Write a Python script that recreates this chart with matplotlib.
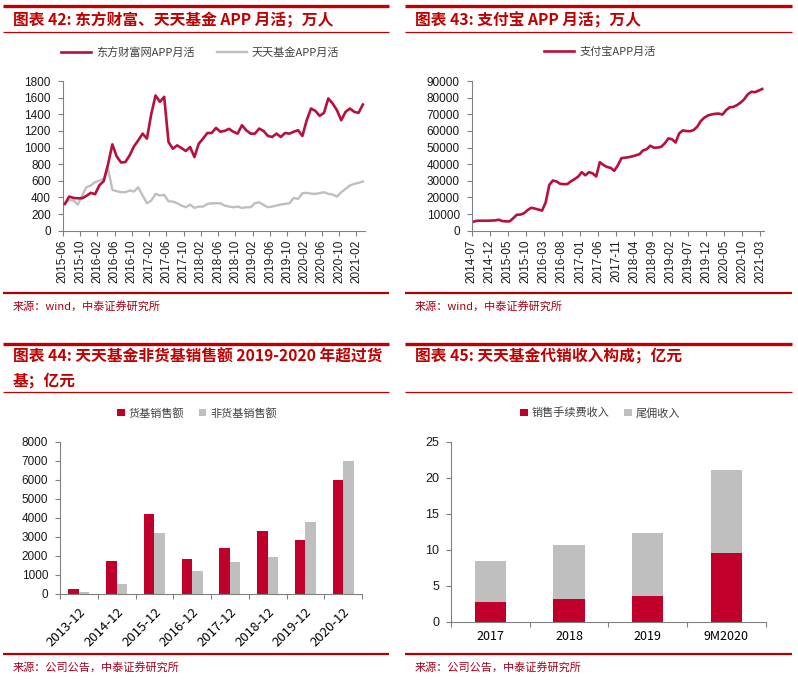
import numpy as np
import pandas as pd
import matplotlib
matplotlib.use("Agg")
import matplotlib.pyplot as plt
from matplotlib.lines import Line2D

plt.rcParams['font.family'] = ['Noto Sans CJK SC', 'DejaVu Sans']

# ── Canvas (pixels) ────────────────────────────────────────────────────────────
W, H = 798, 681

LINE_RED  = "#B8103C"
BAR_RED   = "#C0002B"
GRAY      = "#BFBFBF"
TITLE_RED = "#C00000"
RULE_RED  = "#B00000"
SRC_RED   = "#A8001A"
AXIS_GRAY = "#808080"

# ── Data ───────────────────────────────────────────────────────────────────────
# 图表42: 东方财富 / 天天基金 APP 月活 (万人), 2015-06 .. 2021-03
em_months = pd.period_range("2015-06", "2021-03", freq="M").strftime("%Y-%m").tolist()
em_dfcf = [322, 410, 394, 390, 390, 419, 455, 439, 547, 596,
           800, 1038, 893, 821, 825, 906, 1014, 1087, 1167, 1107,
           1400, 1626, 1550, 1610, 1067, 986, 1026, 994, 958, 1006,
           885, 1046, 1107, 1175, 1175, 1236, 1190, 1200, 1225, 1190,
           1167, 1268, 1208, 1167, 1167, 1228, 1199, 1140, 1127, 1167,
           1127, 1175, 1167, 1190, 1208, 1139, 1328, 1469, 1441, 1381,
           1417, 1590, 1530, 1449, 1328, 1429, 1469, 1429, 1417, 1517]
em_ttjj = [322, 370, 362, 314, 423, 523, 543, 584, 604, 624,
           750, 491, 475, 463, 463, 483, 471, 523, 423, 330,
           362, 443, 423, 431, 354, 350, 330, 302, 282, 314,
           274, 290, 290, 322, 330, 330, 330, 302, 290, 282,
           290, 274, 282, 282, 330, 342, 310, 282, 290, 302,
           315, 322, 330, 394, 382, 451, 455, 445, 443, 451,
           463, 443, 435, 410, 463, 503, 543, 563, 575, 592]

# 图表43: 支付宝 APP 月活 (万人), 2014-07 .. 2021-03
ali_months = pd.period_range("2014-07", "2021-03", freq="M").strftime("%Y-%m").tolist()
ali_mau = [5400, 6000, 6000, 6000, 6000, 6100, 6200, 6600, 5800, 5600,
           5600, 7500, 9600, 9700, 10500, 12400, 13800, 13300, 12700, 12100,
           17000, 27500, 30200, 29600, 28200, 28000, 28000, 29700, 31000, 32500,
           35200, 33300, 35200, 34500, 32600, 41200, 39500, 38300, 37800, 36000,
           39300, 43600, 43900, 44200, 44700, 45300, 46000, 48300, 49000, 51100,
           49900, 50000, 50400, 52500, 55500, 55000, 53000, 58500, 60300, 59900,
           59800, 60500, 62500, 66000, 68000, 69300, 69900, 70300, 70400, 69800,
           72500, 74200, 74400, 75500, 77000, 79000, 82000, 83500, 83300, 84200,
           85200]

# 图表44: 天天基金销售额 (亿元)
sale_years     = ["2013-12", "2014-12", "2015-12", "2016-12",
                  "2017-12", "2018-12", "2019-12", "2020-12"]
sale_money     = [280, 1750, 4210, 1840, 2420, 3290, 2820, 5990]
sale_nonmoney  = [90, 525, 3220, 1210, 1700, 1945, 3765, 6985]

# 图表45: 天天基金代销收入构成 (亿元)
rev_years = ["2017", "2018", "2019", "9M2020"]
rev_fee   = [2.8, 3.1, 3.6, 9.5]
rev_trail = [5.6, 7.5, 8.7, 11.6]


# ── Helpers ────────────────────────────────────────────────────────────────────
def fy(y):
    return 1 - y / H


def px_axes(fig, left, top, right, bottom):
    return fig.add_axes([left / W, fy(bottom), (right - left) / W, (bottom - top) / H])


def rule(fig, y, x0, x1, lw, color):
    fig.add_artist(Line2D([x0 / W, x1 / W], [fy(y), fy(y)],
                          transform=fig.transFigure, lw=lw, color=color,
                          solid_capstyle="butt"))


def panel(fig, x0, x1, top, titles, title_ys, rule_y, src_y, src):
    rule(fig, top, x0, x1, 2.4, TITLE_RED)
    for t, ty in zip(titles, title_ys):
        fig.text((x0 + 10) / W, fy(ty), t, color=TITLE_RED, fontsize=11.3,
                 fontweight="bold", fontstyle="italic", va="center", ha="left")
    rule(fig, rule_y, x0, x1, 0.9, TITLE_RED)
    rule(fig, src_y, x0, x1, 1.6, RULE_RED)
    fig.text((x0 + 10) / W, fy(src_y + 13), src, color=SRC_RED, fontsize=8,
             va="center", ha="left")


def style(ax):
    for s in ["top", "right"]:
        ax.spines[s].set_visible(False)
    for s in ["left", "bottom"]:
        ax.spines[s].set_color(AXIS_GRAY)
        ax.spines[s].set_linewidth(0.8)
    ax.tick_params(direction="out", length=3.5, width=0.8, color=AXIS_GRAY,
                   labelsize=8.5, labelcolor="#1a1a1a",
                   labelfontfamily="Liberation Sans")
    ax.tick_params(axis="y", pad=5)
    ax.set_facecolor("white")


fig = plt.figure(figsize=(W / 100, H / 100), dpi=100)
fig.patch.set_facecolor("white")

# ── Panel frames ───────────────────────────────────────────────────────────────
panel(fig, 3, 389, 5.5, ["图表 42: 东方财富、天天基金 APP 月活；万人"], [20], 31.5,
      293, "来源：wind，中泰证券研究所")
panel(fig, 405, 792, 5.5, ["图表 43: 支付宝 APP 月活；万人"], [20], 31.5,
      293, "来源：wind，中泰证券研究所")
panel(fig, 3, 389, 343.5, ["图表 44: 天天基金非货基销售额 2019-2020 年超过货", "基；亿元"],
      [356.5, 380], 392, 654, "来源：公司公告，中泰证券研究所")
panel(fig, 405, 792, 343.5, ["图表 45: 天天基金代销收入构成；亿元"], [356.5], 392,
      654, "来源：公司公告，中泰证券研究所")

# ── Chart 42 ───────────────────────────────────────────────────────────────────
ax1 = px_axes(fig, 62.7, 81, 365, 230.7)
x1 = np.arange(len(em_months)) + 0.5
ax1.plot(x1, em_dfcf, color=LINE_RED, lw=1.9, label="东方财富网APP月活", zorder=3)
ax1.plot(x1, em_ttjj, color=GRAY, lw=1.7, label="天天基金APP月活", zorder=2)
ax1.set_xlim(0, len(em_months))
ax1.set_ylim(0, 1800)
ax1.set_yticks(np.arange(0, 1801, 200))
tk = np.arange(0, len(em_months), 4)
ax1.set_xticks(tk)
ax1.set_xticklabels([em_months[i] for i in tk], rotation=90)
style(ax1)
ax1.tick_params(axis="x", pad=3)
ax1.legend(loc="center", bbox_to_anchor=(200 / W, fy(52)), bbox_transform=fig.transFigure,
           ncol=2, frameon=False, fontsize=8, handlelength=2.7, handletextpad=0.45,
           columnspacing=2.0, labelcolor="#404040")

# ── Chart 43 ───────────────────────────────────────────────────────────────────
ax2 = px_axes(fig, 471.7, 81, 764, 230.7)
x2 = np.arange(len(ali_months)) + 0.5
ax2.plot(x2, ali_mau, color=LINE_RED, lw=1.9, label="支付宝APP月活")
ax2.set_xlim(0, len(ali_months))
ax2.set_ylim(0, 90000)
ax2.set_yticks(np.arange(0, 90001, 10000))
tk2 = np.arange(0, len(ali_months), 5)
ax2.set_xticks(tk2)
ax2.set_xticklabels([ali_months[i] for i in tk2], rotation=90)
style(ax2)
ax2.tick_params(axis="x", pad=3)
ax2.legend(loc="center", bbox_to_anchor=(600 / W, fy(52)), bbox_transform=fig.transFigure,
           frameon=False, fontsize=8, handlelength=2.7, handletextpad=0.45,
           labelcolor="#404040")

# ── Chart 44 ───────────────────────────────────────────────────────────────────
ax3 = px_axes(fig, 60, 441.7, 362, 594)
x3 = np.arange(len(sale_years))
bw = 0.28
ax3.bar(x3 - bw / 2, sale_money, width=bw, color=BAR_RED, label="货基销售额")
ax3.bar(x3 + bw / 2, sale_nonmoney, width=bw, color=GRAY, label="非货基销售额")
ax3.set_xlim(-0.5, len(sale_years) - 0.5)
ax3.set_ylim(0, 8000)
ax3.set_yticks(np.arange(0, 8001, 1000))
ax3.set_xticks(np.arange(len(sale_years) + 1) - 0.5)
ax3.set_xticklabels([])
ax3.set_xticks(x3, minor=True)
ax3.set_xticklabels(sale_years, minor=True, rotation=45, ha="right",
                    rotation_mode="anchor")
style(ax3)
ax3.tick_params(axis="x", which="minor", length=0, pad=8, labelsize=9.5)
ax3.legend(loc="center", bbox_to_anchor=(197 / W, fy(413)), bbox_transform=fig.transFigure,
           ncol=2, frameon=False, fontsize=8, handlelength=0.7, handleheight=0.7,
           handletextpad=0.35, columnspacing=1.3, labelcolor="#404040")

# ── Chart 45 ───────────────────────────────────────────────────────────────────
ax4 = px_axes(fig, 451, 441.7, 765.7, 621.7)
x4 = np.arange(len(rev_years))
ax4.bar(x4, rev_fee, width=0.4, color=BAR_RED, label="销售手续费收入")
ax4.bar(x4, rev_trail, width=0.4, bottom=rev_fee, color=GRAY, label="尾佣收入")
ax4.set_xlim(-0.5, len(rev_years) - 0.5)
ax4.set_ylim(0, 25)
ax4.set_yticks(np.arange(0, 26, 5))
ax4.set_xticks(np.arange(len(rev_years) + 1) - 0.5)
ax4.set_xticklabels([])
ax4.set_xticks(x4, minor=True)
ax4.set_xticklabels(rev_years, minor=True)
style(ax4)
ax4.tick_params(axis="x", which="minor", length=0, pad=6, labelsize=9)
ax4.tick_params(axis="y", labelsize=9)
ax4.legend(loc="center", bbox_to_anchor=(600 / W, fy(413)), bbox_transform=fig.transFigure,
           ncol=2, frameon=False, fontsize=8, handlelength=0.7, handleheight=0.7,
           handletextpad=0.35, columnspacing=1.3, labelcolor="#404040")

fig.savefig("out.png", dpi=100, facecolor="white")
